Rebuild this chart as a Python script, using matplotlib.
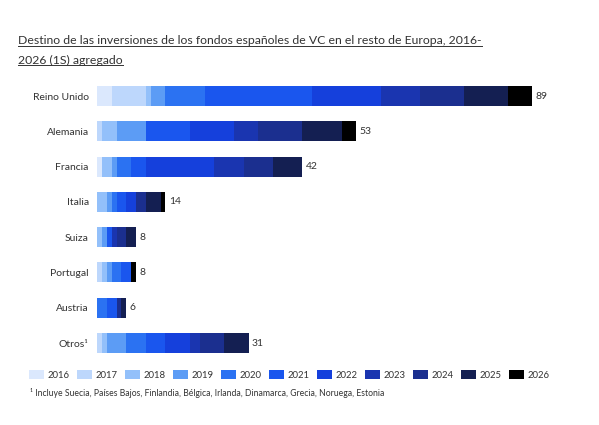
import matplotlib.pyplot as plt
from matplotlib.lines import Line2D
import numpy as np

plt.rcParams['font.family'] = ['Lato', 'DejaVu Sans']

# data
countries = ["Reino Unido", "Alemania", "Francia", "Italia", "Suiza", "Portugal", "Austria", "Otros¹"]
years = ["2016", "2017", "2018", "2019", "2020", "2021", "2022", "2023", "2024", "2025", "2026"]
reino_unido = [3, 7, 1, 3, 8, 22, 14, 8, 9, 9, 5]
alemania = [0, 1, 3, 6, 0, 9, 9, 5, 9, 8, 3]
francia = [1, 0, 2, 1, 3, 3, 14, 6, 6, 6, 0]
italia = [0, 0, 2, 1, 1, 2, 2, 0, 2, 3, 1]
suiza = [0, 0, 1, 1, 0, 1, 0, 1, 2, 2, 0]
portugal = [0, 1, 1, 1, 2, 2, 0, 0, 0, 0, 1]
austria = [0, 0, 0, 0, 2, 2, 0, 0, 1, 1, 0]
otros = [0, 1, 1, 4, 4, 4, 5, 2, 5, 5, 0]

colors = ["#dbe8fd", "#bdd7fc", "#93c0fa", "#5c9cf5", "#2b72f2", "#1a56ee",
          "#1540dc", "#1a35b0", "#1b2f8f", "#141f52", "#000000"]

values = np.array([reino_unido, alemania, francia, italia, suiza, portugal, austria, otros])
totals = values.sum(axis=1)

fig = plt.figure(figsize=(5.99, 4.25), dpi=100)
ax = fig.add_axes([97 / 599, 0.1514, 489 / 599, 0.6642])

ypos = np.arange(len(countries))
left = np.zeros(len(countries))
for i, yr in enumerate(years):
    ax.barh(ypos, values[:, i], left=left, height=0.57, color=colors[i], label=yr)
    left += values[:, i]

for y, t in zip(ypos, totals):
    ax.text(t + 0.7, y, str(t), va='center', ha='left', fontsize=7.5, color='#333333')

ax.set_xlim(0, 100)
ax.set_ylim(len(countries) - 0.5, -0.5)
ax.set_yticks(ypos)
ax.set_yticklabels(countries, fontsize=7.5, color='#333333')
ax.tick_params(axis='y', length=0, pad=6)
ax.set_xticks([])
for s in ax.spines.values():
    s.set_visible(False)

handles, labels = ax.get_legend_handles_labels()
fig.legend(handles, labels, loc='center', bbox_to_anchor=(289 / 599, 1 - 375 / 425), ncol=11,
           frameon=False, fontsize=6.8, handlelength=1.6, handleheight=1.1,
           handletextpad=0.4, columnspacing=0.75, labelcolor='#333333')

fig.text(30 / 599, 1 - 393 / 425,
         "¹ Incluye Suecia, Países Bajos, Finlandia, Bélgica, Irlanda, Dinamarca, Grecia, Noruega, Estonia",
         fontsize=6.2, color='#333333', va='center', ha='left')

t1 = fig.text(18 / 599, 1 - 41 / 425,
              "Destino de las inversiones de los fondos españoles de VC en el resto de Europa, 2016-",
              fontsize=8.8, color='#333333', va='center', ha='left')
t2 = fig.text(18 / 599, 1 - 60 / 425, "2026 (1S) agregado",
              fontsize=8.8, color='#333333', va='center', ha='left')

# underline the title lines
fig.canvas.draw()
r = fig.canvas.get_renderer()
for t in (t1, t2):
    bb = t.get_window_extent(r)
    yline = bb.y0 + 1
    fig.add_artist(Line2D([bb.x0 / fig.bbox.width, bb.x1 / fig.bbox.width],
                          [yline / fig.bbox.height, yline / fig.bbox.height],
                          color='#333333', lw=0.7))

fig.savefig("out.png", dpi=100, facecolor='white')
